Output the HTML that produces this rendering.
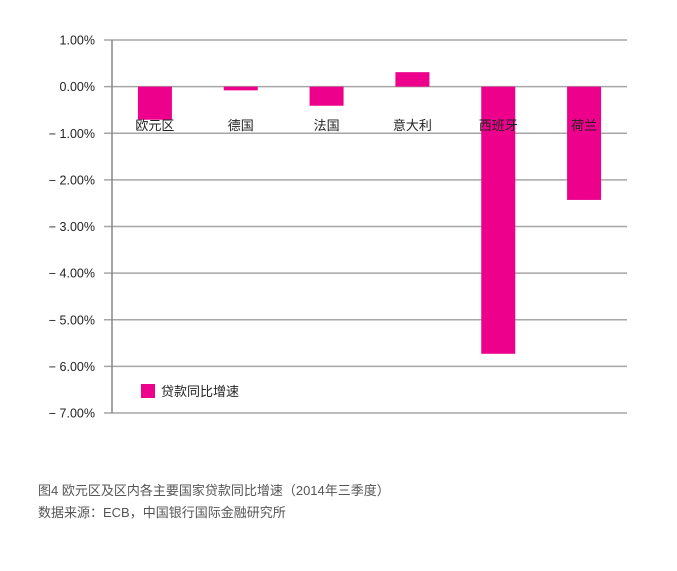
<!DOCTYPE html>
<html><head><meta charset="utf-8"><style>
body{margin:0;background:#fff;width:677px;height:566px;overflow:hidden;font-family:"Liberation Sans","Noto Sans CJK SC",sans-serif}
svg text{font-family:"Liberation Sans","Noto Sans CJK SC",sans-serif}
</style></head><body>
<svg id="chart" width="677" height="566" xmlns="http://www.w3.org/2000/svg">
<g id="grid"></g>
<g id="yticks"></g>
<g id="bars"></g>
<g id="cats"></g>
<line x1="112" y1="40" x2="112" y2="413" stroke="#888" stroke-width="1.5"/>
<g>
<rect x="141" y="384" width="14" height="14" fill="#ec008c"/>
<text x="161" y="396" font-size="13" fill="#222">贷款同比增速</text>
</g>
<text x="38" y="495" font-size="13" fill="#555">图4 欧元区及区内各主要国家贷款同比增速（2014年三季度）</text>
<text x="38" y="517" font-size="13" fill="#555">数据来源：ECB，中国银行国际金融研究所</text>
</svg>
<script>
const categories=["欧元区","德国","法国","意大利","西班牙","荷兰"];
const values=[-0.71,-0.08,-0.41,0.31,-5.73,-2.43];
const tickValues=[1,0,-1,-2,-3,-4,-5,-6,-7];
const tickLabels=["1.00%","0.00%","− 1.00%","− 2.00%","− 3.00%","− 4.00%","− 5.00%","− 6.00%","− 7.00%"];
const NS="http://www.w3.org/2000/svg";
const x0=112,x1=627,yTop=40,yBot=413,vMax=1,vMin=-7;
function y(v){return yTop+(vMax-v)/(vMax-vMin)*(yBot-yTop);}
const bw=(x1-x0)/categories.length;
function xc(i){return x0+bw*(i+0.5);}
function mk(t,a,p){const e=document.createElementNS(NS,t);for(const k in a)e.setAttribute(k,a[k]);p.appendChild(e);return e;}
const g=document.getElementById('grid'),yt=document.getElementById('yticks'),b=document.getElementById('bars'),c=document.getElementById('cats');
tickValues.forEach((v,i)=>{
 const l=mk('line',{x1:x0-8,x2:x1,y1:y(v),y2:y(v),stroke:'#a6a6a6','stroke-width':1.5},g);
 
 
 const t=mk('text',{x:95,y:y(v)+4.5,'text-anchor':'end','font-size':12.5,fill:'#222'},yt);
 t.textContent=tickLabels[i];
 
 
});
values.forEach((v,i)=>{
 const r=mk('rect',{x:xc(i)-17,width:34,y:Math.min(y(v),y(0)),height:Math.abs(y(v)-y(0)),fill:'#ec008c'},b);
 
 
 const t=mk('text',{x:xc(i),y:130,'text-anchor':'middle','font-size':13,fill:'#222'},c);
 t.textContent=categories[i];
 
 
});
</script>
</body></html>
